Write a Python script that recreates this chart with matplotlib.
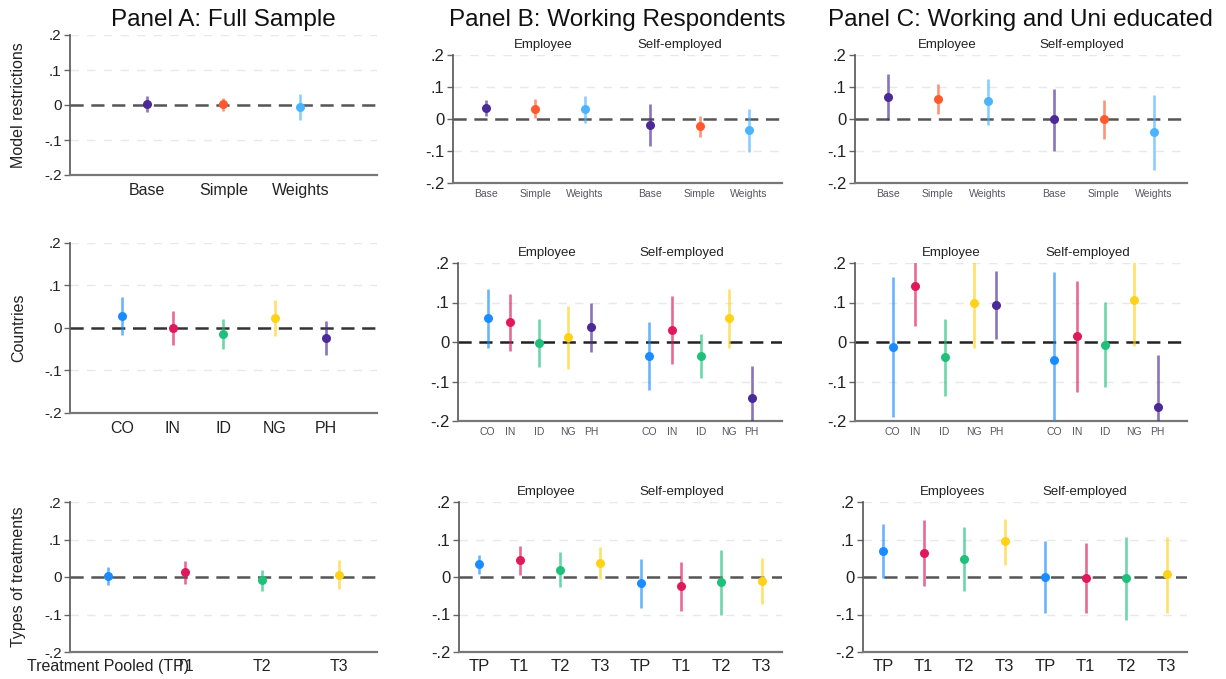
import matplotlib.pyplot as plt

plt.rcParams['font.family'] = ['Liberation Sans', 'DejaVu Sans']
plt.rcParams['lines.scale_dashes'] = False

W, H = 1226, 679

PURPLE = '#4b2a98'
ORANGE = '#ff5a2e'
SKY = '#4cb4ff'
BLUE = '#1a8cff'
CRIMSON = '#e0195a'
GREEN = '#1ec07a'
GOLD = '#ffd21a'

# ---- Panel A: full sample ----
model_labels = ['Base', 'Simple', 'Weights']
a_model_coef = [0.003, 0.003, -0.005]
a_model_lo = [-0.021, -0.016, -0.042]
a_model_hi = [0.027, 0.020, 0.031]

country_labels = ['CO', 'IN', 'ID', 'NG', 'PH']
a_country_coef = [0.029, 0.000, -0.014, 0.023, -0.023]
a_country_lo = [-0.016, -0.041, -0.049, -0.019, -0.063]
a_country_hi = [0.073, 0.039, 0.022, 0.065, 0.016]

treat_labels = ['TP', 'T1', 'T2', 'T3']
a_treat_labels = ['Treatment Pooled (TP)', 'T1', 'T2', 'T3']
a_treat_coef = [0.003, 0.013, -0.009, 0.006]
a_treat_lo = [-0.022, -0.018, -0.037, -0.031]
a_treat_hi = [0.027, 0.044, 0.018, 0.046]

# ---- Panel B: working respondents (employee, then self-employed) ----
b_model_coef = [0.035, 0.032, 0.031, -0.018, -0.022, -0.034]
b_model_lo = [0.008, 0.002, -0.013, -0.084, -0.055, -0.104]
b_model_hi = [0.059, 0.062, 0.071, 0.046, 0.010, 0.032]

b_country_coef = [0.060, 0.050, -0.003, 0.012, 0.037,
                  -0.035, 0.030, -0.035, 0.060, -0.142]
b_country_lo = [-0.014, -0.022, -0.064, -0.068, -0.025,
                -0.121, -0.056, -0.092, -0.014, -0.200]
b_country_hi = [0.135, 0.122, 0.059, 0.092, 0.099,
                0.051, 0.116, 0.020, 0.133, -0.062]

b_treat_coef = [0.034, 0.046, 0.020, 0.037, -0.016, -0.025, -0.014, -0.011]
b_treat_lo = [0.009, 0.006, -0.027, -0.004, -0.082, -0.091, -0.100, -0.073]
b_treat_hi = [0.058, 0.084, 0.066, 0.080, 0.049, 0.040, 0.073, 0.051]

# ---- Panel C: working and university educated ----
c_model_coef = [0.068, 0.063, 0.055, 0.000, 0.000, -0.042]
c_model_lo = [-0.002, 0.016, -0.018, -0.100, -0.061, -0.160]
c_model_hi = [0.142, 0.110, 0.124, 0.095, 0.058, 0.074]

c_country_coef = [-0.013, 0.141, -0.039, 0.100, 0.093,
                  -0.046, 0.014, -0.007, 0.107, -0.165]
c_country_lo = [-0.191, 0.041, -0.136, -0.014, 0.008,
                -0.230, -0.127, -0.115, -0.009, -0.230]
c_country_hi = [0.165, 0.240, 0.058, 0.250, 0.179,
                0.177, 0.155, 0.101, 0.240, -0.034]

c_treat_coef = [0.069, 0.064, 0.048, 0.095, 0.000, -0.002, -0.003, 0.007]
c_treat_lo = [-0.003, -0.025, -0.038, 0.031, -0.096, -0.096, -0.115, -0.096]
c_treat_hi = [0.142, 0.152, 0.133, 0.155, 0.096, 0.090, 0.108, 0.108]

model_colors = [PURPLE, ORANGE, SKY]
country_colors = [BLUE, CRIMSON, GREEN, GOLD, PURPLE]
treat_colors = [BLUE, CRIMSON, GREEN, GOLD]

fig = plt.figure(figsize=(W / 100, H / 100), dpi=100)


def make_axes(left, right, top, bottom):
    return fig.add_axes([left / W, 1 - bottom / H, (right - left) / W, (bottom - top) / H])


def style(ax, pos, labels, xfs, yfs, xpad, zero_color, xcolor='#222222'):
    ax.set_xlim(0, 1)
    ax.set_ylim(-0.2, 0.2)
    for g in (0.2, 0.1, -0.1):
        ax.axhline(g, color='#e8e8e8', lw=1.0, dashes=(6, 6), zorder=0)
    ax.axhline(0, color=zero_color, lw=1.8, dashes=(9.5, 5.5), zorder=1)
    ax.set_yticks([-0.2, -0.1, 0, 0.1, 0.2])
    ax.set_yticklabels(['-.2', '-.1', '0', '.1', '.2'])
    ax.set_xticks(pos)
    ax.set_xticklabels(labels)
    ax.tick_params(axis='y', length=4, width=1, color='#666666', pad=2,
                   labelsize=yfs, labelcolor='#222222')
    ax.tick_params(axis='x', length=0, pad=xpad, labelsize=xfs, labelcolor=xcolor)
    for side in ('top', 'right'):
        ax.spines[side].set_visible(False)
    ax.spines['left'].set_color('#555555')
    ax.spines['left'].set_linewidth(1.2)
    ax.spines['bottom'].set_color('#777777')
    ax.spines['bottom'].set_linewidth(1.6)


def coefplot(ax, pos, coef, lo, hi, colors, ms=6.5):
    for x, c, l, h, col in zip(pos, coef, lo, hi, colors):
        ax.plot([x, x], [l, h], color=col, lw=1.9, alpha=0.65,
                solid_capstyle='butt', zorder=3)
        ax.plot(x, c, 'o', color=col, ms=ms, mec='none', zorder=4)


def subtitles(ax, names, xs, fs=9.5):
    h = ax.get_position().height * H
    for name, x in zip(names, xs):
        ax.text(x, 1 + 10 / h, name, transform=ax.transAxes, ha='center',
                va='center', fontsize=fs, color='#222222')


# category positions along each axis (fraction of the axis width)
pos_a_model = [0.25, 0.5, 0.75]
pos_a_country = [0.169, 0.335, 0.5, 0.668, 0.834]
pos_a_treat = [0.125, 0.375, 0.625, 0.875]
pos_bc_model = [0.10, 0.25, 0.40, 0.60, 0.75, 0.90]
pos_b_country = [0.092, 0.160, 0.251, 0.340, 0.410, 0.589, 0.660, 0.750, 0.837, 0.906]
pos_c_country = [0.113, 0.181, 0.270, 0.357, 0.425, 0.600, 0.668, 0.754, 0.839, 0.912]
pos_bc_treat = [(i + 0.5) / 8 for i in range(8)]

small = '#555560'

# ---- top row: model restrictions ----
ax = make_axes(70, 377, 35, 175)
style(ax, pos_a_model, model_labels, 11.5, 11, 6, '#555555')
coefplot(ax, pos_a_model, a_model_coef, a_model_lo, a_model_hi, model_colors)

ax = make_axes(453, 782, 55, 183)
style(ax, pos_bc_model, model_labels * 2, 7.5, 12, 4, '#555555', small)
coefplot(ax, pos_bc_model, b_model_coef, b_model_lo, b_model_hi, model_colors * 2)
subtitles(ax, ['Employee', 'Self-employed'], [0.274, 0.69])

ax = make_axes(855, 1187, 55, 183)
style(ax, pos_bc_model, model_labels * 2, 7.5, 12, 4, '#555555', small)
coefplot(ax, pos_bc_model, c_model_coef, c_model_lo, c_model_hi, model_colors * 2)
subtitles(ax, ['Employee', 'Self-employed'], [0.277, 0.684])

# ---- middle row: countries ----
ax = make_axes(70, 377, 243, 413)
style(ax, pos_a_country, country_labels, 11.5, 11, 6, '#333333')
coefplot(ax, pos_a_country, a_country_coef, a_country_lo, a_country_hi, country_colors)

ax = make_axes(458, 782, 263, 421)
style(ax, pos_b_country, country_labels * 2, 7.5, 12, 4, '#222222', small)
coefplot(ax, pos_b_country, b_country_coef, b_country_lo, b_country_hi, country_colors * 2)
subtitles(ax, ['Employee', 'Self-employed'], [0.274, 0.69])

ax = make_axes(855, 1187, 263, 421)
style(ax, pos_c_country, country_labels * 2, 7.5, 12, 4, '#222222', small)
coefplot(ax, pos_c_country, c_country_coef, c_country_lo, c_country_hi, country_colors * 2)
subtitles(ax, ['Employee', 'Self-employed'], [0.29, 0.70])

# ---- bottom row: treatments ----
ax = make_axes(70, 377, 502, 652)
style(ax, pos_a_treat, a_treat_labels, 11.5, 11, 5, '#555555')
coefplot(ax, pos_a_treat, a_treat_coef, a_treat_lo, a_treat_hi, treat_colors)

ax = make_axes(459, 782, 502, 652)
style(ax, pos_bc_treat, treat_labels * 2, 12, 12, 5, '#555555')
coefplot(ax, pos_bc_treat, b_treat_coef, b_treat_lo, b_treat_hi, treat_colors * 2)
subtitles(ax, ['Employee', 'Self-employed'], [0.269, 0.69])

ax = make_axes(863, 1187, 502, 652)
style(ax, pos_bc_treat, treat_labels * 2, 12, 12, 5, '#555555')
coefplot(ax, pos_bc_treat, c_treat_coef, c_treat_lo, c_treat_hi, treat_colors * 2)
subtitles(ax, ['Employees', 'Self-employed'], [0.276, 0.686])

# panel titles and row labels
for cx, title in [(223, 'Panel A: Full Sample'), (617, 'Panel B: Working Respondents'),
                  (1020, 'Panel C: Working and Uni educated')]:
    fig.text(cx / W, 1 - 20 / H, title, ha='center', va='center', fontsize=17.5, color='#111111')

for cy, name in [(105, 'Model restrictions'), (328, 'Countries'), (577, 'Types of treatments')]:
    fig.text(19 / W, 1 - cy / H, name, rotation=90, ha='center', va='center',
             fontsize=11.5, color='#222222')

fig.savefig('out.png', dpi=100, facecolor='white')
